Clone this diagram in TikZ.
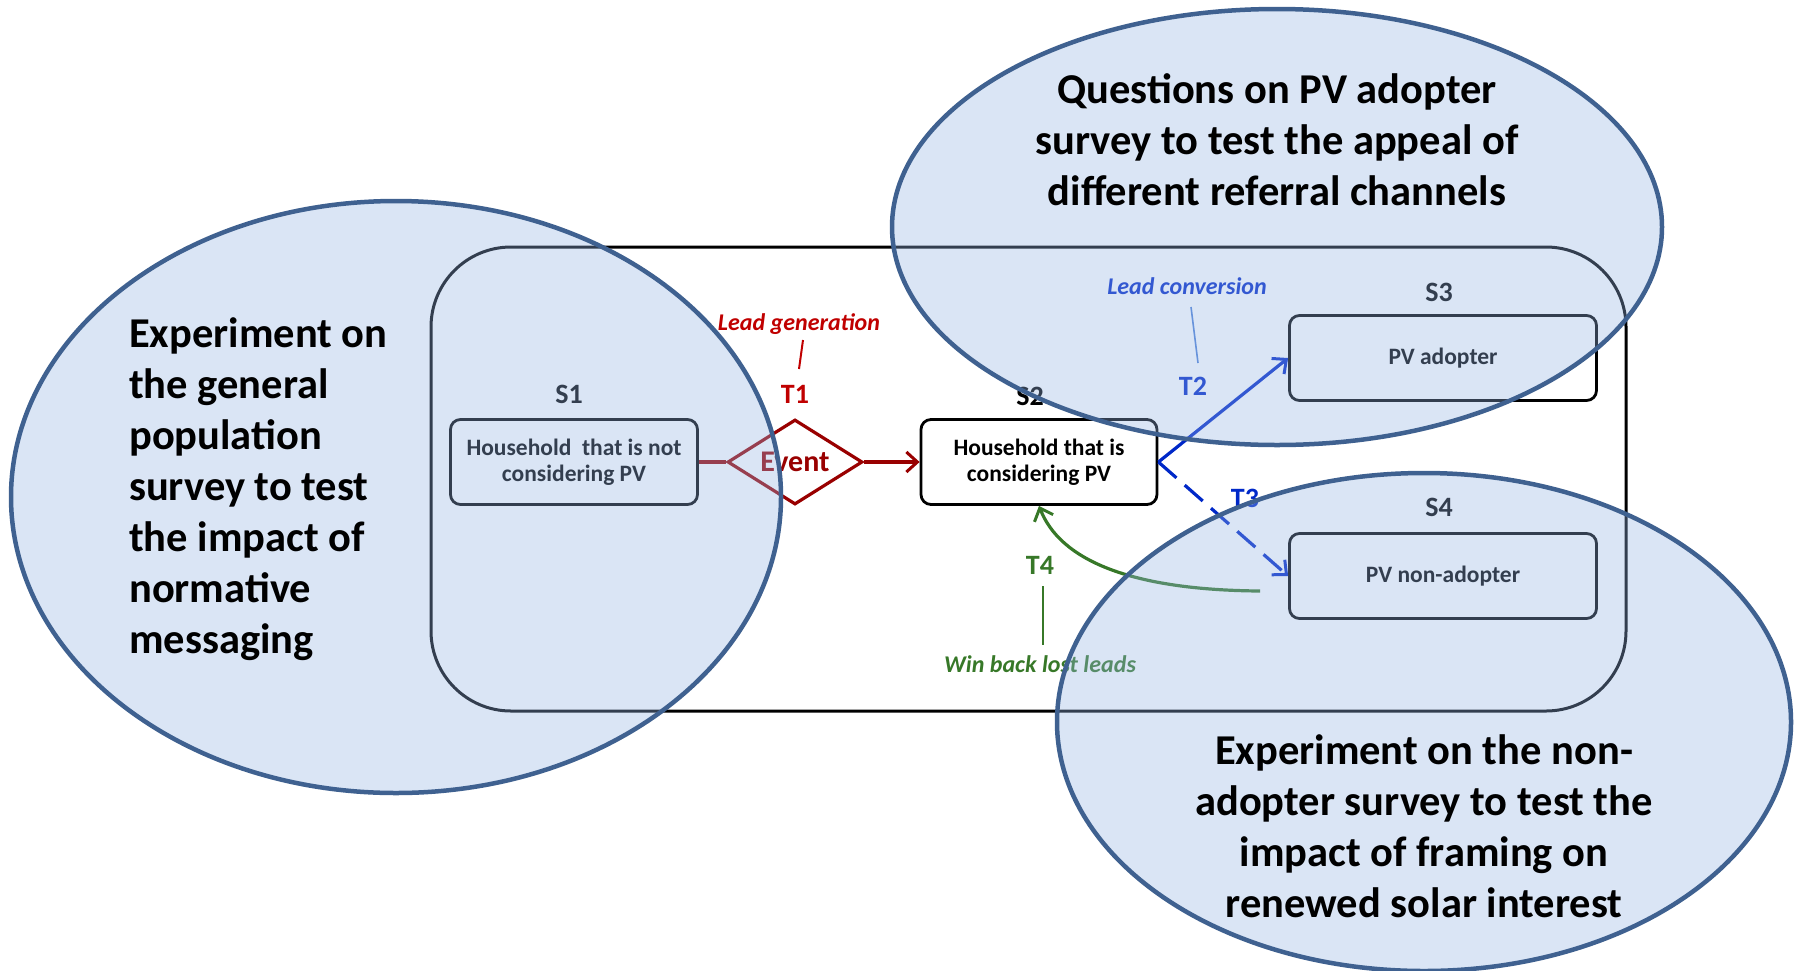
\documentclass[tikz,border=0pt]{standalone}
\usepackage{fontspec}
\setmainfont{Carlito}
\usetikzlibrary{shapes.geometric,arrows.meta}
\definecolor{ellfill}{RGB}{148,180,227}
\definecolor{elldraw}{RGB}{63,97,144}
\definecolor{dred}{RGB}{153,0,0}
\definecolor{tred}{RGB}{192,0,0}
\definecolor{tblue}{RGB}{0,40,200}
\definecolor{lblue}{RGB}{80,130,215}
\definecolor{tgreen}{RGB}{55,120,40}
\tikzset{
  statebox/.style={draw=black, line width=2.8pt, rounded corners=10pt, minimum height=85pt,
    align=center, inner sep=0pt, font=\fontsize{23.5}{26}\selectfont\bfseries},
  slabel/.style={font=\fontsize{28}{32}\selectfont\bfseries, inner sep=0pt},
  tlabel/.style={font=\fontsize{28}{32}\selectfont\bfseries, inner sep=0pt},
  note/.style={font=\fontsize{24}{26}\selectfont\bfseries\itshape, inner sep=0pt},
  bubble/.style={ellipse, draw=elldraw, line width=4.5pt, fill=ellfill, fill opacity=0.35, inner sep=0pt},
  bigtext/.style={font=\fontsize{42.5}{51}\selectfont\bfseries, inner sep=0pt, text=black},
  barb/.style={-{Straight Barb[length=11pt,width=20pt,line width=3pt]}},
}
\begin{document}
\begin{tikzpicture}[x=1pt,y=-1pt]
\useasboundingbox (0,0) rectangle (1796,970);
% frame
\node[draw=black, line width=3pt, rounded corners=80pt, minimum width=1195pt, minimum height=464pt, inner sep=0pt] (frame) at (1028.5,479) {};
% states
\node[statebox, minimum width=247pt] (S1) at (574,462) {Household\ \ that is not\\considering PV};
\node[statebox, minimum width=236pt] (S2) at (1039,462) {Household that is\\considering PV};
\node[statebox, minimum width=307pt] (S3) at (1443,358) {PV adopter};
\node[statebox, minimum width=307pt] (S4) at (1443,576) {PV non-adopter};
\node[slabel] (s1l) at (569,394) {S1};
\node[slabel] (s2l) at (1030,396) {S2};
\node[slabel] (s3l) at (1439,292) {S3};
\node[slabel] (s4l) at (1439,507) {S4};
% event
\node[diamond, draw=dred, line width=3.2pt, aspect=1.59, minimum width=135pt, minimum height=85pt,
  inner sep=0pt, text=dred, font=\fontsize{30}{32}\selectfont\bfseries] (event) at (795,462) {Event};
% transitions
\draw[dred, line width=3.2pt] (S1.east) -- (event.west);
\draw[dred, line width=3.2pt, barb] (event.east) -- (S2.west);
\draw[tblue, line width=3.2pt, barb] (S2.east) -- (S3.west);
\draw[tblue, line width=3.2pt, barb, dash pattern=on 24pt off 11pt] (S2.east) -- (S4.west);
\coordinate (t4s) at (1260,591);
\draw[tgreen, line width=3.2pt, barb] (t4s) .. controls (1130,590) and (1060,560) .. (S2.south);
% labels
\node[tlabel, text=tred] (T1) at (795,394) {T1};
\node[note, text=tred] (lg) at (799,324) {Lead generation};
\coordinate (lg1) at (803,340);
\coordinate (lg2) at (799,369);
\draw[tred, line width=2pt] (lg1) -- (lg2);
\node[tlabel, text=tblue] (T2) at (1193,386) {T2};
\node[note, text=tblue] (lc) at (1187,286) {Lead conversion};
\coordinate (lc1) at (1191,307);
\coordinate (lc2) at (1198,363);
\draw[lblue, line width=1.6pt] (lc1) -- (lc2);
\node[tlabel, text=tblue] (T3) at (1245,498) {T3};
\node[tlabel, text=tgreen] (T4) at (1040,565) {T4};
\node[note, text=tgreen] (wb) at (1040,664) {Win back lost leads};
\coordinate (wb1) at (1043,586);
\coordinate (wb2) at (1043,645);
\draw[tgreen, line width=2pt] (wb1) -- (wb2);
% bubbles
\node[bubble, minimum width=770pt, minimum height=592pt] (eL) at (396,497) {};
\node[bubble, minimum width=770pt, minimum height=436pt] (eT) at (1277,227) {};
\node[bubble, minimum width=734pt, minimum height=498pt] (eB) at (1424,722) {};
\node[bigtext, anchor=west, align=left] (tL) at (129,489) {Experiment on\\the general\\population\\survey to test\\the impact of\\normative\\messaging};
\node[bigtext, align=center] (tT) at (1277,140) {Questions on PV adopter\\survey to test the appeal of\\different referral channels};
\node[bigtext, align=center] (tB) at (1424,826) {Experiment on the non-\\adopter survey to test the\\impact of framing on\\renewed solar interest};
\end{tikzpicture}
\end{document}
